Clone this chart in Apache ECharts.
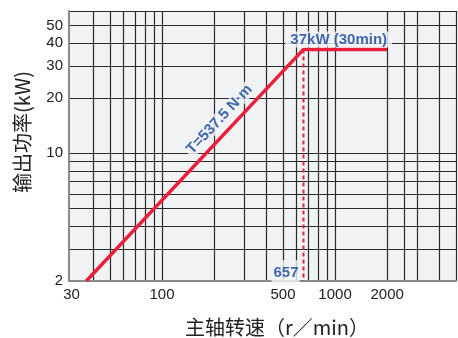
<!DOCTYPE html>
<html><head><meta charset="utf-8">
<script src="https://cdn.jsdelivr.net/npm/echarts@6/dist/echarts.min.js"></script>
<style>html,body{margin:0;padding:0;background:#fff}#c{width:458px;height:338px}</style>
</head><body><div id="c"></div>
<script>
// Data
const xTickLabels = [30, 100, 500, 1000, 2000];
const yTickLabels = [2, 10, 20, 30, 40, 50];
const xGridValues = [40, 50, 60, 70, 80, 90, 100, 200, 300, 400, 500, 600, 700, 800, 900, 1000, 2000, 2500, 3000, 4000, 5000];
const yGridValues = [3, 4, 5, 6, 7, 8, 9, 10, 20, 30, 40, 50, 60];
const powerCurve = [[36.5, 2], [657, 37], [2000, 37]];
const baseSpeedLine = [[657, 37], [657, 2]];
const torqueText = 'T=537.5 N·m';
const ratedText = '37kW (30min)';
const baseSpeedText = '657';

const blue = '#15459a';
const red = '#e8203b';
const bg = '#f1f2f4';
const labelFont = 'Liberation Sans Narrow, Liberation Sans, Arial, sans-serif';

const chart = echarts.init(document.getElementById('c'));
chart.setOption({
  animation: false,
  grid: { left: 69, right: 2, top: 11, bottom: 57, show: true, backgroundColor: bg, borderWidth: 0 },
  xAxis: {
    type: 'log', min: 29, max: 5000, logBase: 10,
    axisLine: { show: true, lineStyle: { color: '#8a8a8a', width: 2 } },
    axisTick: { show: false, customValues: xGridValues },
    axisLabel: { customValues: xTickLabels, formatter: v => String(v), color: '#222', fontSize: 15, fontFamily: 'Liberation Sans, Arial', margin: 6 },
    splitLine: { show: true, lineStyle: { color: '#2a2a2a', width: 1.2 } }
  },
  yAxis: {
    type: 'log', min: 2, max: 60, logBase: 10,
    axisLine: { show: true, lineStyle: { color: '#8a8a8a', width: 2 } },
    axisTick: { show: false, customValues: yGridValues },
    axisLabel: { customValues: yTickLabels, formatter: v => String(v), color: '#222', fontSize: 15, fontFamily: 'Liberation Sans, Arial', margin: 6 },
    splitLine: { show: true, lineStyle: { color: '#2a2a2a', width: 1.2 } }
  },
  graphic: [
    { type: 'text', x: 277, y: 327, style: { text: '主轴转速（r／min）', fontSize: 20, fontFamily: 'Noto Sans CJK SC', fill: '#222', align: 'center', verticalAlign: 'middle' } },
    { type: 'text', x: 22, y: 132, rotation: Math.PI / 2, style: { text: '输出功率(kW)', fontSize: 20, fontFamily: 'Noto Sans CJK SC', fill: '#222', align: 'center', verticalAlign: 'middle' } }
  ],
  series: [
    { type: 'line', data: baseSpeedLine, showSymbol: false, symbol: 'none', silent: true,
      lineStyle: { color: red, width: 2, type: [4, 3] }, z: 3 },
    { type: 'line', data: powerCurve, showSymbol: false, symbol: 'none', silent: true,
      lineStyle: { color: red, width: 3.5 }, z: 4 },
    { type: 'scatter', symbolSize: 0, silent: true, z: 5,
      data: [
        { value: [1050, 37], label: { show: true, formatter: ratedText, position: 'top', distance: 2, color: blue, fontWeight: 'bold', fontSize: 15, fontFamily: labelFont, backgroundColor: bg, padding: [1, 5, 0, 5] } },
        { value: [215, 15.3], label: { show: true, formatter: torqueText, position: 'inside', rotate: 47, color: blue, fontWeight: 'bold', fontSize: 15, fontFamily: labelFont, backgroundColor: bg, padding: [0, 2] } },
        { value: [657, 2.22], label: { show: true, formatter: baseSpeedText, position: 'left', distance: 4, color: blue, fontWeight: 'bold', fontSize: 15, fontFamily: labelFont, backgroundColor: bg, padding: [8, 1, 2, 2] } }
      ]
    }
  ]
});
</script></body></html>
